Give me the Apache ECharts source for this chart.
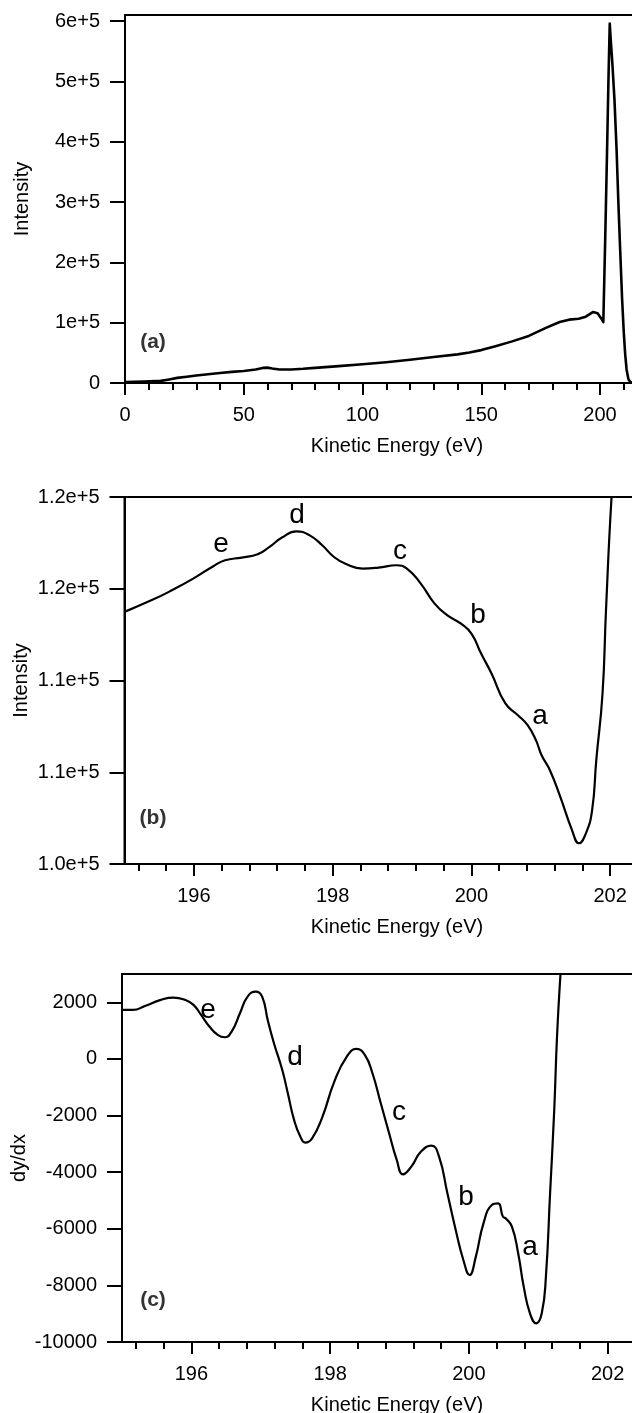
<!DOCTYPE html>
<html>
<head>
<meta charset="utf-8">
<script src="https://cdn.jsdelivr.net/npm/echarts@6/dist/echarts.min.js"></script>
<style>
  html, body { margin: 0; padding: 0; background: #fff; }
  #chart { width: 632px; height: 1413px; }
</style>
</head>
<body>
<div id="chart"></div>
<script>
// ---- (a) full spectrum: intensity vs kinetic energy ----
const aEnergy = [0, 8, 15, 18, 22, 26, 30, 35, 40, 45, 50, 55, 58, 60, 62, 65, 70, 75, 80, 90,
  100, 110, 120, 130, 140, 145, 150, 156, 163, 170, 177, 183, 187, 191, 194, 197, 199, 200.5,
  201.4, 202.2, 203.0, 203.6, 204.1, 204.5, 205.2, 206.1, 207.0, 207.7, 208.5, 209.3, 210.0,
  210.6, 211.2, 212.0, 212.8, 214];
const aIntensity = [1500, 2500, 3500, 5500, 8500, 10500, 12500, 14500, 16500, 18500, 20000, 22500,
  25000, 25500, 24000, 22500, 22500, 23500, 25000, 28000, 31000, 34500, 38500, 43000, 47500, 50500,
  54500, 61000, 69000, 78000, 91000, 101000, 105000, 106500, 110000, 117500, 115500, 107000,
  101000, 240000, 390000, 510000, 596000, 570000, 530000, 469000, 385000, 303000, 220000, 140000,
  85000, 48000, 22000, 6000, 1500, 0];

// ---- (b) expanded view below the elastic peak ----
const bEnergy = [195.0, 195.41, 195.64, 195.99, 196.28, 196.45, 196.69, 196.92, 197.09, 197.27,
  197.48, 197.67, 197.85, 198.02, 198.20, 198.43, 198.66, 198.92, 199.07, 199.27, 199.47, 199.65,
  199.85, 200.00, 200.14, 200.29, 200.49, 200.67, 200.81, 200.93, 201.01, 201.13, 201.28, 201.45,
  201.55, 201.65, 201.74, 201.80, 201.89, 201.94, 202.02, 202.06];
const bIntensity = [113740, 114410, 114830, 115550, 116230, 116550, 116700, 116880, 117280, 117790,
  118130, 117910, 117370, 116730, 116330, 116100, 116150, 116280, 116100, 115280, 114190, 113560,
  113100, 112560, 111470, 110380, 108750, 108110, 107570, 106750, 105940, 105120, 103670, 101850,
  101130, 101670, 102940, 105660, 109290, 113830, 120000, 121500];

// ---- (c) first derivative of (b) ----
const cEnergy = [195.0, 195.16, 195.33, 195.56, 195.74, 195.91, 196.03, 196.14, 196.26, 196.38,
  196.48, 196.58, 196.70, 196.81, 196.93, 197.02, 197.10, 197.19, 197.31, 197.39, 197.48, 197.57,
  197.64, 197.74, 197.89, 198.06, 198.24, 198.38, 198.50, 198.61, 198.73, 198.85, 198.96, 199.05,
  199.17, 199.31, 199.46, 199.57, 199.69, 199.81, 199.92, 200.01, 200.10, 200.21, 200.33, 200.42,
  200.49, 200.53, 200.62, 200.71, 200.79, 200.88, 200.97, 201.05, 201.11, 201.17, 201.23, 201.27,
  201.32, 201.35];
const cDeriv = [1730, 1730, 1870, 2085, 2165, 2085, 1910, 1555, 1145, 850, 766, 966, 1614, 2203,
  2380, 2203, 1378, 554, -389, -1213, -2155, -2744, -2956, -2803, -2038, -801, 82, 353, 141, -506,
  -1567, -2627, -3569, -4075, -3804, -3274, -3062, -3451, -4747, -6042, -7102, -7633, -6985, -5807,
  -5159, -5100, -5571, -5630, -5925, -6867, -8045, -8987, -9340, -8987, -7692, -4747, -1802, 789,
  3000, 4000];

// ---- tick values and their labels ----
const aXTicks = [0, 50, 100, 150, 200];
const aXLabels = ['0', '50', '100', '150', '200'];
const aYTicks = [0, 100000, 200000, 300000, 400000, 500000, 600000];
const aYLabels = ['0', '1e+5', '2e+5', '3e+5', '4e+5', '5e+5', '6e+5'];
const zoomXTicks = [196, 198, 200, 202];
const zoomXLabels = ['196', '198', '200', '202'];
const bYTicks = [100000, 105000, 110000, 115000, 120000];
const bYLabels = ['1.0e+5', '1.1e+5', '1.1e+5', '1.2e+5', '1.2e+5'];
const cYTicks = [-10000, -8000, -6000, -4000, -2000, 0, 2000];
const cYLabels = ['-10000', '-8000', '-6000', '-4000', '-2000', '0', '2000'];
const featureNames = ['a', 'b', 'c', 'd', 'e'];
const panelNames = ['(a)', '(b)', '(c)'];

const FONT = "'Liberation Sans', Arial, Helvetica, sans-serif";
const INK = '#000';

function zip(xs, ys) { return xs.map((x, i) => [x, ys[i]]); }

function minorTicks(start, end, step, majors) {
  const out = [];
  const n = Math.round((end - start) / step);
  for (let i = 0; i <= n; i++) {
    const v = Math.round((start + i * step) * 1000) / 1000;
    if (!majors.some(m => Math.abs(m - v) < 1e-6)) out.push(v);
  }
  return out;
}

function labeller(values, labels) {
  return function (v) {
    const i = values.findIndex(m => Math.abs(m - v) < 1e-6);
    return i < 0 ? '' : labels[i];
  };
}

function xAxisPair(gridIndex, min, max, majors, labels, minors) {
  return [
    {
      type: 'value', gridIndex, min, max, position: 'bottom',
      name: 'Kinetic Energy (eV)', nameLocation: 'middle', nameGap: 53, nameMoveOverlap: false,
      nameTextStyle: { fontFamily: FONT, fontSize: 20, color: INK },
      axisLine: { show: true, onZero: false, lineStyle: { color: INK, width: 2 } },
      axisTick: { show: true, inside: false, length: 12, customValues: majors,
        lineStyle: { color: INK, width: 2 } },
      axisLabel: { show: true, margin: 22, customValues: majors, formatter: labeller(majors, labels),
        fontFamily: FONT, fontSize: 20, color: INK },
      splitLine: { show: false }
    },
    {
      type: 'value', gridIndex, min, max, position: 'bottom',
      axisLine: { show: false, onZero: false },
      axisTick: { show: true, inside: false, length: 7, customValues: minors,
        lineStyle: { color: INK, width: 2 } },
      axisLabel: { show: false },
      splitLine: { show: false }
    }
  ];
}

function yAxisOf(gridIndex, min, max, ticks, labels, name) {
  return {
    type: 'value', gridIndex, min, max, position: 'left',
    name, nameLocation: 'middle', nameGap: 93, nameMoveOverlap: false,
    nameTextStyle: { fontFamily: FONT, fontSize: 20, color: INK },
    axisLine: { show: true, onZero: false, lineStyle: { color: INK, width: 2 } },
    axisTick: { show: true, inside: false, length: 15, customValues: ticks,
      lineStyle: { color: INK, width: 2 } },
    axisLabel: { show: true, margin: 25, customValues: ticks, formatter: labeller(ticks, labels),
      fontFamily: FONT, fontSize: 20, color: INK },
    splitLine: { show: false }
  };
}

function gridOf(left, top, width, height) {
  return { left, top, width, height, show: true, borderColor: INK, borderWidth: 2,
    backgroundColor: 'transparent', containLabel: false, outerBoundsMode: 'none' };
}

function lineSeries(xIdx, yIdx, data, width, smooth) {
  return {
    type: 'line', xAxisIndex: xIdx, yAxisIndex: yIdx, data,
    symbol: 'none', showSymbol: false, smooth, clip: true, silent: true,
    lineStyle: { color: INK, width, join: 'round' }
  };
}

// layout of the three stacked panels
const aGrid = gridOf(125, 15, 544, 368);
const bGrid = gridOf(124.5, 497, 545, 367);
const cGrid = gridOf(122, 974, 550, 368);
const aMax = 544 / 2.375;
const bMax = 195 + 545 / 69.38;
const cMax = 195 + 550 / 69.38;

const aMinor = minorTicks(10, 220, 10, aXTicks);
const zoomMinor = minorTicks(195.2, 202.8, 0.4, zoomXTicks);

// peak letters placed beside the curves (pixel positions), listed a..e
const bLetterPos = [[540, 716], [478, 615], [400, 551], [297, 515], [221, 544]];
const cLetterPos = [[530, 1247], [466, 1197], [399, 1112], [295, 1057], [208, 1010]];
const panelPos = [[153, 342], [153, 818], [153, 1300]];

function textEl(str, x, y, size, weight, color) {
  return {
    type: 'text', x, y, silent: true,
    style: { text: str, fill: color, font: weight + ' ' + size + 'px ' + FONT,
      textAlign: 'center', textVerticalAlign: 'middle', align: 'center', verticalAlign: 'middle' }
  };
}

const graphics = [];
featureNames.forEach((n, i) => {
  graphics.push(textEl(n, bLetterPos[i][0], bLetterPos[i][1], 28, 'normal', INK));
  graphics.push(textEl(n, cLetterPos[i][0], cLetterPos[i][1], 28, 'normal', INK));
});
panelNames.forEach((n, i) => {
  graphics.push(textEl(n, panelPos[i][0], panelPos[i][1], 21, 'bold', '#333'));
});

const chart = echarts.init(document.getElementById('chart'), null, { renderer: 'canvas' });
chart.setOption({
  animation: false,
  backgroundColor: '#fff',
  grid: [aGrid, bGrid, cGrid],
  xAxis: [
    ...xAxisPair(0, 0, aMax, aXTicks, aXLabels, aMinor),
    ...xAxisPair(1, 195, bMax, zoomXTicks, zoomXLabels, zoomMinor),
    ...xAxisPair(2, 195, cMax, zoomXTicks, zoomXLabels, zoomMinor)
  ],
  yAxis: [
    yAxisOf(0, 0, 610000, aYTicks, aYLabels, 'Intensity'),
    yAxisOf(1, 100000, 120000, bYTicks, bYLabels, 'Intensity'),
    yAxisOf(2, -10000, 3000, cYTicks, cYLabels, 'dy/dx')
  ],
  series: [
    lineSeries(0, 0, zip(aEnergy, aIntensity), 2.6, false),
    lineSeries(2, 1, zip(bEnergy, bIntensity), 2.2, 0.5),
    lineSeries(4, 2, zip(cEnergy, cDeriv), 2.2, 0.5)
  ],
  graphic: graphics
});
</script>
</body>
</html>
